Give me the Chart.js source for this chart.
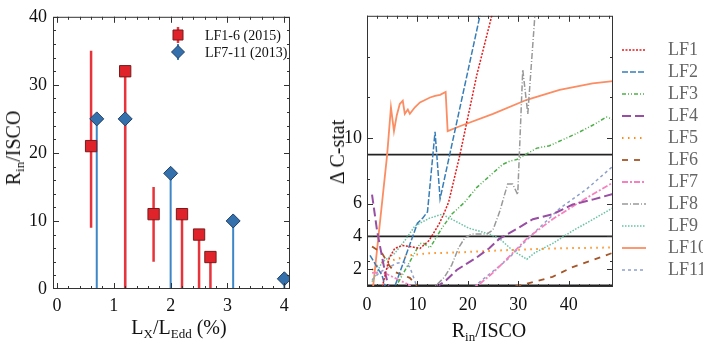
<!DOCTYPE html>
<html>
<head>
<meta charset="utf-8">
<title>Rin/ISCO vs luminosity and Delta C-stat</title>
<script src="https://cdn.jsdelivr.net/npm/chart.js@4.4.1/dist/chart.umd.min.js"></script>
<style>
  body { margin: 0; background: #fff; }
  #wrap { position: relative; width: 708px; height: 344px; overflow: hidden; }
  canvas { position: absolute; top: 0; }
  #left { left: 0; }
  #right { left: 305px; }
  .ttl { position: absolute; font-family: "Liberation Serif", serif; font-size: 20px; line-height: 20px;
         color: #111; white-space: nowrap; text-align: center; }
  .ttl sub { font-size: 13px; vertical-align: -4px; line-height: 0; }
  .rot { transform: translate(-50%, -50%) rotate(-90deg); }
</style>
</head>
<body>
<div id="wrap">
  <canvas id="left" width="305" height="344"></canvas>
  <canvas id="right" width="403" height="344"></canvas>
  <div class="ttl rot" style="left:13px; top:148px;">R<sub>in</sub>/ISCO</div>
  <div class="ttl" style="left:99px; width:160px; top:317px;">L<sub>X</sub>/L<sub>Edd</sub> (%)</div>
  <div class="ttl rot" style="left:337px; top:152px;">&Delta; C-stat</div>
  <div class="ttl" style="left:409px; width:160px; top:320px;">R<sub>in</sub>/ISCO</div>
</div>
<script>
// ---- left panel: Rin/ISCO against Lx/LEdd ----
const lf2015X = [0.6, 1.2, 1.7, 2.2, 2.5, 2.7];
const lf2015Y = [21, 32, 11, 11, 8, 4.7];
const lf2015Lo = [9, 0, 4, 0, 0, 0];
const lf2015Hi = [35, 32, 15, 11, 8, 4.7];

const lf2013X = [0.7, 1.2, 2.0, 3.1, 4.0];
const lf2013Y = [25, 25, 17, 10, 1.5];
const lf2013Lo = [0, 0, 0, 0, 0];
const lf2013Hi = [25, 25, 17, 10, 1.5];

const leftXTicks = [0, 1, 2, 3, 4];
const leftYTicks = [0, 10, 20, 30, 40];

// ---- right panel: Delta C-stat against Rin/ISCO ----
const rightXTicks = [0, 10, 20, 30, 40];
const rightYTicks = [2, 4, 6, 10];
const rightYMarks = [2, 2.5, 4, 5, 6, 7.5, 10, 12.5, 15];
const sigmaLevels = [1, 4, 9];

const lfNames = ['LF1', 'LF2', 'LF3', 'LF4', 'LF5', 'LF6', 'LF7', 'LF8', 'LF9', 'LF10', 'LF11'];
const lf1 = [[2.6,0.5],[3.0,0.86],[4.4,2.66],[5.5,3.26],[6.9,3.44],[8.5,3.38],[10.5,3.26],[12.3,3.74],[14.3,4.75],[15.4,5.5],[16.2,6.1],[18.4,8.95],[21.8,13.9],[24.75,17.5],[25.5,18.5]];
const lf2 = [[0.6,2.84],[3.0,1.6],[4.0,0.5],[5.0,0.5],[5.5,0.92],[10.0,4.8],[11.0,5.1],[12.0,5.5],[13.5,10.4],[14.5,6.3],[22.4,17.5],[23.0,18.5]];
const lf3 = [[5.3,0.5],[5.5,0.8],[10.5,3.56],[11.3,3.56],[12.5,3.3],[14.85,4.5],[16.8,5.35],[19.4,6.1],[21.8,7.0],[26.9,8.4],[28.3,8.6],[29.7,8.7],[33.7,9.4],[36.2,9.55],[41.6,10.3],[44.75,10.8],[47.5,11.3],[48.8,11.16]];
const lf4 = [[1.0,6.55],[2.0,4.34],[3.56,1.82],[4.36,0.8],[4.8,0.3],[13.5,0.3],[13.9,0.92],[15.8,1.34],[17.8,1.94],[21.8,2.72],[24.2,3.26],[26.3,3.86],[30.3,4.57],[32.9,5.05],[36.8,5.35],[40.8,5.95],[44.75,6.25],[48.8,6.6]];
const lf5 = [[1.0,1.94],[2.6,2.36],[5.1,2.54],[8.5,2.84],[11.9,2.96],[18.4,3.02],[26.3,3.14],[36.8,3.26],[48.8,3.32]];
const lf6 = [[1.0,3.38],[3.0,2.96],[4.36,2.24],[5.5,1.82],[8.5,1.46],[9.7,1.04],[10.5,0.8],[11.0,0.5],[27.0,0.5],[27.3,0.8],[30.9,1.04],[36.8,1.52],[40.8,2.12],[43.6,2.42],[48.8,3.0]];
const lf7 = [[1.0,1.76],[3.0,1.82],[5.5,1.46],[7.5,1.16],[8.9,0.92],[9.5,0.5],[20.0,0.5],[20.4,0.8],[22.4,1.1],[24.95,1.76],[27.7,2.6],[31.7,3.86],[36.8,5.05],[42.2,6.1],[48.8,7.3]];
const lf8 = [[13.0,0.5],[13.3,0.86],[15.4,1.52],[16.8,2.24],[18.2,3.32],[19.4,3.9],[20.8,4.15],[23.8,4.15],[25.0,4.4],[26.3,5.5],[27.9,7.2],[28.9,7.2],[29.9,6.55],[30.9,14.2],[31.9,11.5],[33.3,17.5],[33.6,18.5]];
const lf9 = [[1.0,1.22],[3.0,2.42],[5.5,2.96],[7.5,3.74],[9.5,4.63],[12.3,5.1],[14.85,5.35],[16.8,5.05],[20.2,4.5],[24.2,4.15],[26.3,3.86],[28.9,3.14],[31.7,2.6],[33.3,3.0],[36.8,3.56],[40.8,4.34],[44.2,4.93],[48.8,5.75]];
const lf10 = [[1.0,0.3],[4.0,9.0],[4.75,11.9],[5.35,10.44],[5.9,11.4],[6.5,12.1],[7.1,12.3],[7.5,11.5],[8.1,11.76],[8.5,11.5],[9.5,11.9],[10.5,12.2],[11.5,12.35],[12.5,12.5],[13.5,12.6],[14.5,12.66],[15.6,12.84],[16.0,10.44],[18.4,10.74],[25.0,11.5],[31.7,12.36],[38.2,12.96],[44.75,13.37],[48.8,13.5]];
const lf11 = [[1.0,1.34],[2.6,1.82],[5.9,2.36],[7.3,2.42],[8.5,2.12],[9.9,0.92],[10.3,0.5],[20.6,0.5],[21.0,0.8],[22.4,1.22],[27.7,2.54],[32.9,4.15],[38.2,5.7],[43.6,6.9],[48.8,8.3]];
const lfSeries = [lf1, lf2, lf3, lf4, lf5, lf6, lf7, lf8, lf9, lf10, lf11];

const lfColors = ['#e41a1c', '#377eb8', '#4daf4a', '#984ea3', '#ff8c1a', '#a65628',
                  '#f781bf', '#999999', '#66c2a5', '#fc8d62', '#8da0cb'];
const lfDashes = [[2, 1.5], [6, 2], [4, 2, 1, 2, 1, 2], [9, 4], [1.5, 4.5], [6, 6],
                  [6, 2, 2, 2], [6, 2, 1, 2], [1.5, 1.5], [], [3, 3]];
const lfWidths = [1.5, 1.5, 1.5, 2, 2, 1.8, 1.8, 1.5, 1.5, 1.8, 1.5];

const serif = 'Liberation Serif';

// frame around the plot with inward tick marks on all four sides
const frameTicks = {
  id: 'frameTicks',
  afterDatasetsDraw(chart, args, opts) {
    const {ctx, chartArea: a, scales: {x, y}} = chart;
    ctx.save();
    ctx.strokeStyle = '#333';
    ctx.lineWidth = 1;
    ctx.strokeRect(a.left + 0.5, a.top + 0.5, a.right - a.left - 1, a.bottom - a.top - 1);
    ctx.beginPath();
    const xm = (vals, len) => vals.forEach(v => {
      const px = Math.round(x.getPixelForValue(v)) + 0.5;
      if (px < a.left || px > a.right) return;
      ctx.moveTo(px, a.bottom); ctx.lineTo(px, a.bottom - len);
      ctx.moveTo(px, a.top); ctx.lineTo(px, a.top + len);
    });
    const ym = (vals, len) => vals.forEach(v => {
      const py = Math.round(y.getPixelForValue(v)) + 0.5;
      if (py < a.top || py > a.bottom) return;
      ctx.moveTo(a.left, py); ctx.lineTo(a.left + len, py);
      ctx.moveTo(a.right, py); ctx.lineTo(a.right - len, py);
    });
    xm(opts.xMajor, 6); xm(opts.xMinor, 3);
    ym(opts.yMajor, 6); ym(opts.yMinor, 3);
    ctx.stroke();
    ctx.restore();
  }
};

function steps(from, to, step) {
  const out = [];
  for (let v = from; v <= to + 1e-9; v += step) out.push(Math.round(v * 100) / 100);
  return out;
}

// vertical error bars under the markers
const errorBars = {
  id: 'errorBars',
  beforeDatasetsDraw(chart) {
    const {ctx, chartArea: a, scales: {x, y}} = chart;
    ctx.save();
    ctx.beginPath();
    ctx.rect(a.left, a.top, a.right - a.left, a.bottom - a.top);
    ctx.clip();
    chart.data.datasets.slice().reverse().forEach(ds => {
      ctx.strokeStyle = ds.barColor;
      ctx.lineWidth = ds.barWidth;
      ds.data.forEach((p, i) => {
        const px = x.getPixelForValue(p.x);
        ctx.beginPath();
        ctx.moveTo(px, y.getPixelForValue(ds.lo[i]));
        ctx.lineTo(px, y.getPixelForValue(ds.hi[i]));
        ctx.stroke();
      });
    });
    ctx.restore();
  }
};

// small legend in the upper right corner of the left panel
const cornerLegend = {
  id: 'cornerLegend',
  afterDraw(chart, args, opts) {
    const ctx = chart.ctx;
    ctx.save();
    chart.data.datasets.forEach((ds, i) => {
      const cx = opts.x, cy = opts.y + i * opts.step;
      ctx.strokeStyle = ds.barColor;
      ctx.lineWidth = ds.barWidth;
      ctx.beginPath(); ctx.moveTo(cx, cy - 8); ctx.lineTo(cx, cy + 8); ctx.stroke();
      ctx.fillStyle = ds.backgroundColor;
      ctx.strokeStyle = ds.borderColor;
      ctx.lineWidth = 1;
      ctx.beginPath();
      if (ds.pointStyle === 'rect') {
        ctx.rect(cx - 5, cy - 5, 10, 10);
      } else {
        ctx.moveTo(cx, cy - 6.5); ctx.lineTo(cx + 6.5, cy); ctx.lineTo(cx, cy + 6.5); ctx.lineTo(cx - 6.5, cy); ctx.closePath();
      }
      ctx.fill(); ctx.stroke();
      ctx.fillStyle = '#111';
      ctx.font = '14px "' + serif + '"';
      ctx.textBaseline = 'middle';
      ctx.fillText(ds.label, opts.textX, cy + 1);
    });
    ctx.restore();
  }
};

const toPoints = (xs, ys) => xs.map((v, i) => ({x: v, y: ys[i]}));

new Chart(document.getElementById('left'), {
  type: 'scatter',
  data: {
    datasets: [
      {
        label: 'LF1-6 (2015)',
        data: toPoints(lf2015X, lf2015Y),
        lo: lf2015Lo, hi: lf2015Hi,
        barColor: '#e8333b', barWidth: 2.5,
        pointStyle: 'rect', pointRadius: 8, pointHoverRadius: 8,
        backgroundColor: '#e0232b', borderColor: '#7a1a1a', borderWidth: 1
      },
      {
        label: 'LF7-11 (2013)',
        data: toPoints(lf2013X, lf2013Y),
        lo: lf2013Lo, hi: lf2013Hi,
        barColor: '#3d87c8', barWidth: 2,
        pointStyle: 'rectRot', pointRadius: 7, pointHoverRadius: 7,
        backgroundColor: '#3470ac', borderColor: '#1f3f66', borderWidth: 1
      }
    ]
  },
  options: {
    responsive: false,
    animation: false,
    layout: {padding: {top: 10, right: 15, left: 0, bottom: 0}},
    plugins: {
      legend: {display: false},
      tooltip: {enabled: false},
      frameTicks: {xMajor: leftXTicks, xMinor: steps(0, 4, 0.2), yMajor: leftYTicks, yMinor: steps(0, 40, 2)},
      cornerLegend: {x: 178, y: 35, step: 17, textX: 205}
    },
    scales: {
      x: {
        type: 'linear', min: -0.07, max: 4.1,
        afterBuildTicks: s => { s.ticks = leftXTicks.map(v => ({value: v})); },
        afterFit: s => { s.height = 55; },
        grid: {display: false, drawTicks: false},
        border: {display: false},
        ticks: {padding: 6, color: '#111', maxRotation: 0, autoSkip: false, font: {family: serif, size: 18}}
      },
      y: {
        type: 'linear', min: 0, max: 40,
        afterBuildTicks: s => { s.ticks = leftYTicks.map(v => ({value: v})); },
        afterFit: s => { s.width = 53; },
        grid: {display: false, drawTicks: false},
        border: {display: false},
        ticks: {padding: 6, color: '#111', font: {family: serif, size: 18}}
      }
    }
  },
  plugins: [errorBars, frameTicks, cornerLegend]
});

// legend sample: a short styled line on a transparent strip
function swatch(i) {
  const c = document.createElement('canvas');
  c.width = 42; c.height = 10;
  const g = c.getContext('2d');
  g.strokeStyle = lfColors[i];
  g.lineWidth = lfWidths[i];
  g.setLineDash(lfDashes[i]);
  g.beginPath(); g.moveTo(5, 5); g.lineTo(29, 5); g.stroke();
  return c;
}

const sigmaLines = {
  id: 'sigmaLines',
  beforeDatasetsDraw(chart) {
    const {ctx, chartArea: a, scales: {y}} = chart;
    ctx.save();
    ctx.strokeStyle = '#222';
    ctx.lineWidth = 1.6;
    ctx.beginPath();
    sigmaLevels.forEach(v => {
      const py = y.getPixelForValue(v);
      ctx.moveTo(a.left, py); ctx.lineTo(a.right, py);
    });
    ctx.stroke();
    ctx.restore();
  }
};

new Chart(document.getElementById('right'), {
  type: 'line',
  data: {
    datasets: lfSeries.map((s, i) => ({
      label: lfNames[i],
      data: s.map(p => ({x: p[0], y: p[1]})),
      borderColor: lfColors[i],
      borderDash: lfDashes[i],
      borderWidth: lfWidths[i],
      pointRadius: 0,
      fill: false,
      tension: 0
    }))
  },
  options: {
    responsive: false,
    animation: false,
    layout: {padding: {top: 11, right: 5, left: 0, bottom: 0}},
    plugins: {
      tooltip: {enabled: false},
      legend: {
        position: 'right',
        align: 'start',
        maxWidth: 90,
        title: {display: true, text: '', font: {size: 10, lineHeight: 1}, padding: {top: 16, bottom: 0}},
        labels: {
          usePointStyle: true,
          pointStyleWidth: 42,
          padding: 4,
          color: '#111',
          font: {family: serif, size: 18, lineHeight: 1},
          generateLabels: chart => chart.data.datasets.map((ds, i) => ({
            text: ds.label, datasetIndex: i, hidden: false,
            pointStyle: swatch(i), lineWidth: 0,
            fillStyle: 'rgba(0,0,0,0)', strokeStyle: 'rgba(0,0,0,0)'
          }))
        }
      },
      frameTicks: {xMajor: rightXTicks, xMinor: steps(0, 48, 2), yMajor: rightYTicks, yMinor: rightYMarks}
    },
    scales: {
      x: {
        type: 'linear', min: 0, max: 48.8,
        afterBuildTicks: s => { s.ticks = rightXTicks.map(v => ({value: v})); },
        afterFit: s => { s.height = 57; },
        grid: {display: false, drawTicks: false},
        border: {display: false},
        ticks: {padding: 7, color: '#111', maxRotation: 0, autoSkip: false, font: {family: serif, size: 18}}
      },
      y: {
        type: 'linear', min: 0.9, max: 17.5,
        afterBuildTicks: s => { s.ticks = rightYTicks.map(v => ({value: v})); },
        afterFit: s => { s.width = 62; },
        grid: {display: false, drawTicks: false},
        border: {display: false},
        ticks: {padding: 5, color: '#111', font: {family: serif, size: 18}}
      }
    }
  },
  plugins: [sigmaLines, frameTicks]
});
</script>
</body>
</html>
